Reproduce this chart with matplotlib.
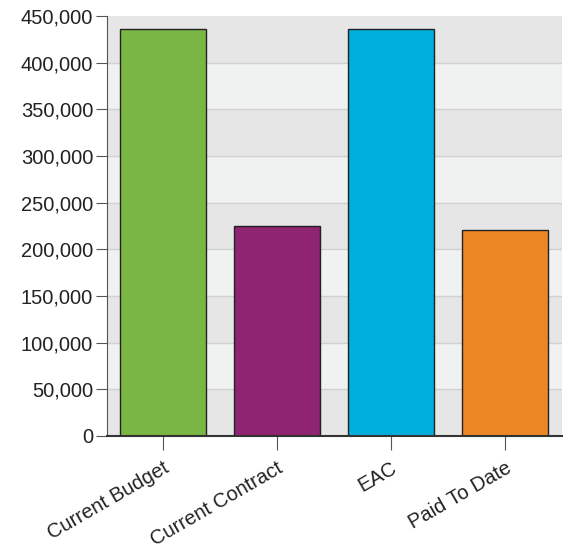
import numpy as np
import matplotlib.pyplot as plt
from matplotlib.ticker import FuncFormatter

plt.rcParams['font.family'] = ['Liberation Sans', 'DejaVu Sans']

# ---- Данные ----
categories = ["Current Budget", "Current Contract", "EAC", "Paid To Date"]
values = [436000, 225000, 436000, 220500]
colors = ["#7ab643", "#8e2472", "#00afdb", "#ec8725"]
y_ticks = np.arange(0, 450001, 50000)

fig = plt.figure(figsize=(5.68, 5.50), dpi=100)
ax = fig.add_axes([0.1884, 0.2073, 0.801, 0.7636])

# полосы фона
for i, lo in enumerate(y_ticks[:-1]):
    ax.axhspan(lo, lo + 50000, color="#e6e6e6" if i % 2 == 0 else "#f0f1f1", zorder=0, lw=0)
for t in y_ticks[1:-1]:
    ax.axhline(t, color="#d0d0d0", lw=1, zorder=0.5)

x = np.arange(len(categories))
ax.bar(x, values, width=0.75, color=colors, edgecolor="#222222", linewidth=1, zorder=2)

ax.set_xlim(-0.49, 3.5)
ax.set_ylim(0, 450000)
ax.set_yticks(y_ticks)
ax.yaxis.set_major_formatter(FuncFormatter(lambda v, p: f"{int(v):,}"))
ax.set_xticks(x)
ax.set_xticklabels(categories, rotation=30, ha="right", rotation_mode="anchor")

ax.tick_params(axis="y", labelsize=14.5, length=8, color="#555555", labelcolor="#222222", pad=2)
ax.tick_params(axis="x", labelsize=14.5, length=10, color="#555555", labelcolor="#222222", pad=6)

for s in ["top", "right"]:
    ax.spines[s].set_visible(False)
ax.spines["left"].set_color("#555555")
ax.spines["bottom"].set_color("#333333")
ax.spines["bottom"].set_linewidth(1.5)

fig.savefig("out.png", dpi=100)
